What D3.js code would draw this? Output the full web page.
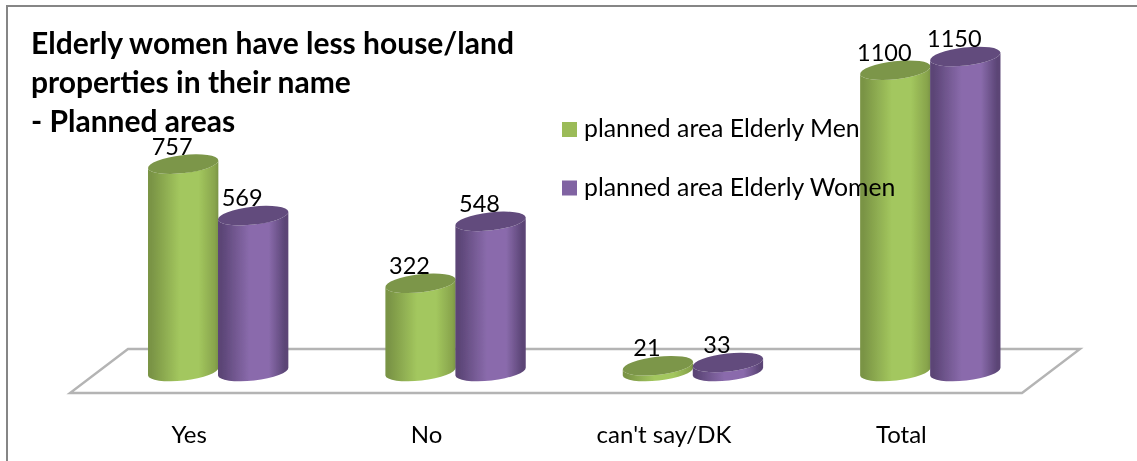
<!DOCTYPE html>
<html><head><meta charset="utf-8">
<script src="https://cdn.jsdelivr.net/npm/d3@7/dist/d3.min.js"></script>
<style>html,body{margin:0;padding:0;background:#fff;overflow:hidden}svg{display:block}text{font-family:Lato,"Open Sans",sans-serif;fill:#000}</style>
</head><body><svg id="c" width="1137" height="461"></svg>
<script>
const categories = ["Yes","No","can't say/DK","Total"];
const seriesNames = ["planned area Elderly Men","planned area Elderly Women"];
const menValues = [757,322,21,1100];
const womenValues = [569,548,33,1150];
const titleLines = ["Elderly women have less house/land","properties in their name","- Planned areas"];

const svg = d3.select("#c");
const defs = svg.append("defs");
defs.append("filter").attr("id","soft").attr("x","-5%").attr("y","-5%").attr("width","110%").attr("height","110%")
  .append("feGaussianBlur").attr("stdDeviation",0.7);
defs.append("filter").attr("id","softText").attr("x","-5%").attr("y","-20%").attr("width","110%").attr("height","140%")
  .append("feGaussianBlur").attr("stdDeviation",0.3);
const palette = [
  {top:"#7c9649", edge:"#7a9445", mid:"#a3c75e", swatch:"#9bbb59"},
  {top:"#624c7d", edge:"#5b4576", mid:"#8a6bac", swatch:"#8064a2"}
];
palette.forEach((p,i)=>{
  const g = defs.append("linearGradient").attr("id","body"+i).attr("x1",0).attr("x2",1).attr("y1",0).attr("y2",0);
  [[0,p.edge],[0.05,p.edge],[0.45,p.mid],[0.72,p.mid],[0.95,i?p.edge:"#88a44c"],[1,p.edge]]
    .forEach(s=>g.append("stop").attr("offset",s[0]).attr("stop-color",s[1]));
});

// frame
svg.append("path").attr("d","M7,461V6H1137").attr("fill","none").attr("stroke","#868686").attr("stroke-width",2);

const x = d3.scaleBand().domain(categories).range([99.5,1049]).padding(0);
const y = d3.scaleLinear().domain([0,1150]).range([371.5,56.5]);
const sub = d3.scaleBand().domain([0,1]).range([x.bandwidth()/2-70,x.bandwidth()/2+70]);

// floor
svg.append("path").attr("d","M128,349H1080L1022,393H70Z").attr("fill","#fff").attr("stroke","#b4b4b4").attr("stroke-width",2.4).attr("filter","url(#softText)");

// axis labels
const axis = d3.axisBottom(x).tickSize(0).tickPadding(0);
const ax = svg.append("g").attr("transform","translate(-29,425)").call(axis);
ax.select(".domain").remove();
ax.selectAll("text").attr("font-size",24).attr("dy",0).attr("y",18).style("font-family","Lato").attr("filter","url(#softText)");

// cylinders
const rx=35.4, ry=9, rot=-6.5, dxE=rx*Math.cos(6.5*Math.PI/180), dyE=rx*Math.sin(6.5*Math.PI/180);
const ell=(cx,cy)=>`M${cx-dxE},${cy+dyE}A${rx},${ry},${rot},1,1,${cx+dxE},${cy-dyE}A${rx},${ry},${rot},1,1,${cx-dxE},${cy+dyE}Z`;
const body=(cx,t,b)=>`M${cx-dxE},${t+dyE}L${cx-dxE},${b+dyE}A${rx},${ry},${rot},0,0,${cx+dxE},${b-dyE}L${cx+dxE},${t-dyE}A${rx},${ry},${rot},0,1,${cx-dxE},${t+dyE}Z`;

[menValues,womenValues].forEach((vals,s)=>{
  const g = svg.append("g").attr("filter","url(#soft)").selectAll("g").data(vals).join("g");
  g.append("path").attr("d",(d,i)=>body(x(categories[i])+sub(s)+sub.bandwidth()/2,y(d),y(0))).attr("fill",`url(#body${s})`);
  g.append("path").attr("d",(d,i)=>ell(x(categories[i])+sub(s)+sub.bandwidth()/2,y(d))).attr("fill",palette[s].top);
});
[menValues,womenValues].forEach((vals,s)=>{
  svg.append("g").attr("filter","url(#softText)").selectAll("text").data(vals).join("text")
    .attr("x",(d,i)=>x(categories[i])+sub(s)+sub.bandwidth()/2-11)
    .attr("y",d=>y(d)-9.5).attr("text-anchor","middle").attr("font-size",23.5).text(d=>d);
});

// legend
const leg = svg.append("g").attr("filter","url(#softText)").selectAll("g").data(seriesNames).join("g").attr("transform",(d,i)=>`translate(562,${122+i*58.5})`);
leg.append("rect").attr("width",15).attr("height",15).attr("fill",(d,i)=>palette[i].swatch);
leg.append("text").attr("x",22).attr("y",15).attr("font-size",24.8).text(d=>d);

// title
svg.append("g").attr("filter","url(#softText)").selectAll("text").data(titleLines).join("text")
  .attr("x",31).attr("y",(d,i)=>53.5+i*39).attr("font-size",30).attr("font-weight",700).text(d=>d);
</script></body></html>
